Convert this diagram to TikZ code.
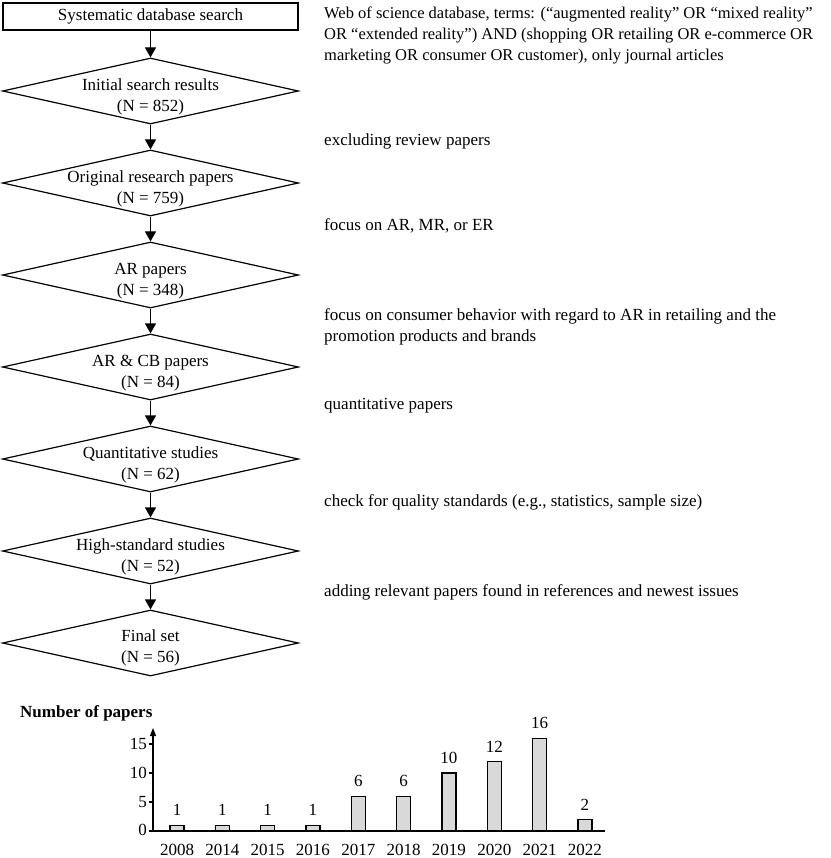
\documentclass[tikz,border=0pt]{standalone}
\usepackage{fontspec}
\setmainfont{Liberation Serif}
\usetikzlibrary{shapes.geometric,arrows.meta}
\definecolor{barfill}{RGB}{217,217,217}
\begin{document}
\begin{tikzpicture}[x=1pt,y=-1pt,
  every node/.style={font=\fontsize{17}{21}\selectfont, inner sep=0pt},
  flowbox/.style={draw, line width=1.2pt, minimum width=295pt, minimum height=27pt},
  decision/.style={draw, diamond, line width=1.2pt, minimum width=296pt, minimum height=66pt},
  flowtxt/.style={align=center},
  note/.style={anchor=west, align=left},
  flowarrow/.style={line width=1.2pt, -{Triangle[length=10pt,width=11pt]}},
  axisline/.style={line width=1.3pt},
  axisarrow/.style={line width=1.3pt, -{Triangle[length=8pt,width=6pt]}},
  barstyle/.style={draw, fill=barfill, line width=1.2pt}
]
\useasboundingbox (0,0) rectangle (830,858);

% flowchart
\node[flowbox] (start) at (150.5,16.5) {Systematic database search};
\node[decision] (d1) at (150.5,91) {};
\node[decision] (d2) at (150.5,183) {};
\node[decision] (d3) at (150.5,275) {};
\node[decision] (d4) at (150.5,367) {};
\node[decision] (d5) at (150.5,459) {};
\node[decision] (d6) at (150.5,551) {};
\node[decision] (d7) at (150.5,643) {};

\node[flowtxt] (t1) at (150.5,97) {Initial search results\\(N = 852)};
\node[flowtxt] (t2) at (150.5,189) {Original research papers\\(N = 759)};
\node[flowtxt] (t3) at (150.5,281) {AR papers\\(N = 348)};
\node[flowtxt] (t4) at (150.5,373) {AR \& CB papers\\(N = 84)};
\node[flowtxt] (t5) at (150.5,465) {Quantitative studies\\(N = 62)};
\node[flowtxt] (t6) at (150.5,557) {High-standard studies\\(N = 52)};
\node[flowtxt] (t7) at (150.5,648) {Final set\\(N = 56)};

\draw[flowarrow] (start.south) -- (d1.north);
\draw[flowarrow] (d1.south) -- (d2.north);
\draw[flowarrow] (d2.south) -- (d3.north);
\draw[flowarrow] (d3.south) -- (d4.north);
\draw[flowarrow] (d4.south) -- (d5.north);
\draw[flowarrow] (d5.south) -- (d6.north);
\draw[flowarrow] (d6.south) -- (d7.north);

% notes
\node[note, font=\fontsize{16.5}{21}\selectfont] (n1) at (324,35) {Web of science database, terms: (“augmented reality” OR “mixed reality”\\OR “extended reality”) AND (shopping OR retailing OR e-commerce OR\\marketing OR consumer OR customer), only journal articles};
\node[note] (n2) at (324,141) {excluding review papers};
\node[note] (n3) at (324,226) {focus on AR, MR, or ER};
\node[note] (n4) at (324,326.5) {focus on consumer behavior with regard to AR in retailing and the\\promotion products and brands};
\node[note] (n5) at (324,406) {quantitative papers};
\node[note] (n6) at (324,502) {check for quality standards (e.g., statistics, sample size)};
\node[note] (n7) at (324,592) {adding relevant papers found in references and newest issues};

% bar chart
\node[anchor=west, font=\bfseries\fontsize{17}{21}\selectfont] (ylab) at (20,713) {Number of papers};

\foreach \yr/\v [count=\i from 0] in {2008/1,2014/1,2015/1,2016/1,2017/6,2018/6,2019/10,2020/12,2021/16,2022/2} {
  \pgfmathsetmacro\bx{177+45.33*\i}
  \pgfmathsetmacro\bt{831-5.8*\v}
  \draw[barstyle] (\bx-7,831) rectangle (\bx+7,\bt);
  \node (v\yr) at (\bx,\bt-15) {\v};
  \node (y\yr) at (\bx,850) {\yr};
}

\coordinate (yaxb) at (153,831);
\coordinate (yaxt) at (153,728);
\coordinate (xaxl) at (149,831);
\coordinate (xaxr) at (605,831);
\draw[axisarrow] (yaxb) -- (yaxt);
\draw[axisline] (xaxl) -- (xaxr);
\foreach \t in {5,10,15} {
  \coordinate (tk\t) at (153,831-5.8*\t);
  \draw[axisline] (tk\t) -- ++(-4,0);
  \node[anchor=east] (tl\t) at (147,831-5.8*\t) {\t};
}
\node[anchor=east] (tl0) at (147,830) {0};
\end{tikzpicture}
\end{document}
